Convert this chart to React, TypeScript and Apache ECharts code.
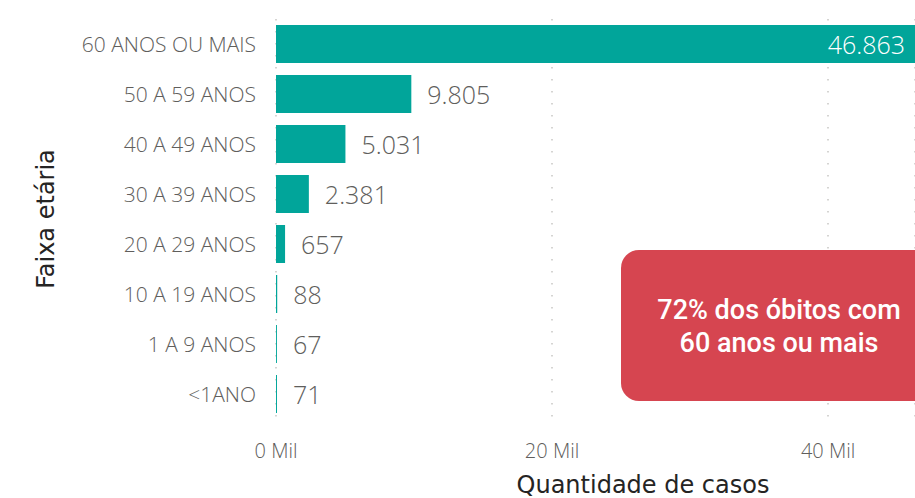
import React, { useEffect, useRef } from "react";
import * as echarts from "echarts";

const categories = [
  "60 ANOS OU MAIS",
  "50 A 59 ANOS",
  "40 A 49 ANOS",
  "30 A 39 ANOS",
  "20 A 29 ANOS",
  "10 A 19 ANOS",
  "1 A 9 ANOS",
  "<1ANO",
];
const values = [46863, 9805, 5031, 2381, 657, 88, 67, 71];
const xTickStep = 20000;
const xAxisMax = 46300;
const xAxisTitle = "Quantidade de casos";
const yAxisTitle = "Faixa etária";
const calloutText = "72% dos óbitos com\n60 anos ou mais";

const fmt = (v: number) =>
  String(Math.round(v)).replace(/\B(?=(\d{3})+(?!\d))/g, ".");

const LIGHT = "Open Sans";

export default function App() {
  const ref = useRef<HTMLDivElement>(null);
  useEffect(() => {
    if (!ref.current) return;
    const chart = echarts.init(ref.current, null, { renderer: "svg" });
    const maxVal = Math.max(...values);
    const data = values.map((v) =>
      v === maxVal
        ? {
            value: v,
            label: {
              position: "insideRight",
              distance: 10,
              color: "#ffffff",
            },
          }
        : { value: v }
    );
    chart.setOption({
      animation: false,
      grid: { left: 276, right: 0, top: 19, bottom: 79, containLabel: false },
      xAxis: {
        type: "value",
        min: 0,
        max: xAxisMax,
        interval: xTickStep,
        axisLine: { show: false },
        axisTick: { show: false },
        axisLabel: {
          showMaxLabel: false,
          margin: 21,
          color: "#605E5C",
          fontSize: 20,
          fontFamily: LIGHT,
          fontWeight: 300,
          formatter: (v: number) => `${Math.round(v / 1000)} Mil`,
        },
        splitLine: {
          show: true,
          lineStyle: { color: "#C8C6C4", type: [1.5, 10.5], width: 1.5 },
        },
      },
      yAxis: {
        type: "category",
        inverse: true,
        data: categories,
        axisLine: { show: false },
        axisTick: { show: false },
        axisLabel: {
          margin: 20,
          color: "#605E5C",
          fontSize: 21,
          fontFamily: LIGHT,
          fontWeight: 300,
        },
        name: yAxisTitle,
        nameLocation: "middle",
        nameGap: 218,
        nameRotate: 90,
        nameTextStyle: {
          color: "#252423",
          fontSize: 24,
          fontFamily: "DejaVu Sans",
        },
      },
      series: [
        {
          type: "bar",
          data,
          barWidth: 38,
          clip: true,
          itemStyle: { color: "#01A59A" },
          label: {
            show: true,
            position: "right",
            distance: 16,
            color: "#605E5C",
            fontSize: 25,
            fontFamily: LIGHT,
            fontWeight: 300,
            formatter: (p: any) => fmt(p.value),
          },
        },
      ],
      graphic: [
        {
          type: "text",
          x: 643,
          y: 485,
          z: 100,
          style: {
            text: xAxisTitle,
            fill: "#252423",
            fontSize: 24,
            fontFamily: "DejaVu Sans",
            textAlign: "center",
            textVerticalAlign: "middle",
          },
        },
        {
          type: "rect",
          x: 621,
          y: 250,
          z: 100,
          shape: { x: 0, y: 0, width: 316, height: 151, r: 18 },
          style: { fill: "#D64550" },
        },
        {
          type: "text",
          x: 779,
          y: 326,
          z: 101,
          style: {
            text: calloutText,
            fill: "#ffffff",
            fontSize: 27,
            lineHeight: 33,
            fontFamily: "Roboto",
            fontWeight: 500,
            textAlign: "center",
            textVerticalAlign: "middle",
          },
        },
      ],
    });
    return () => chart.dispose();
  }, []);
  return (
    <div
      ref={ref}
      style={{ position: "absolute", left: 0, top: 0, width: 915, height: 498 }}
    />
  );
}
